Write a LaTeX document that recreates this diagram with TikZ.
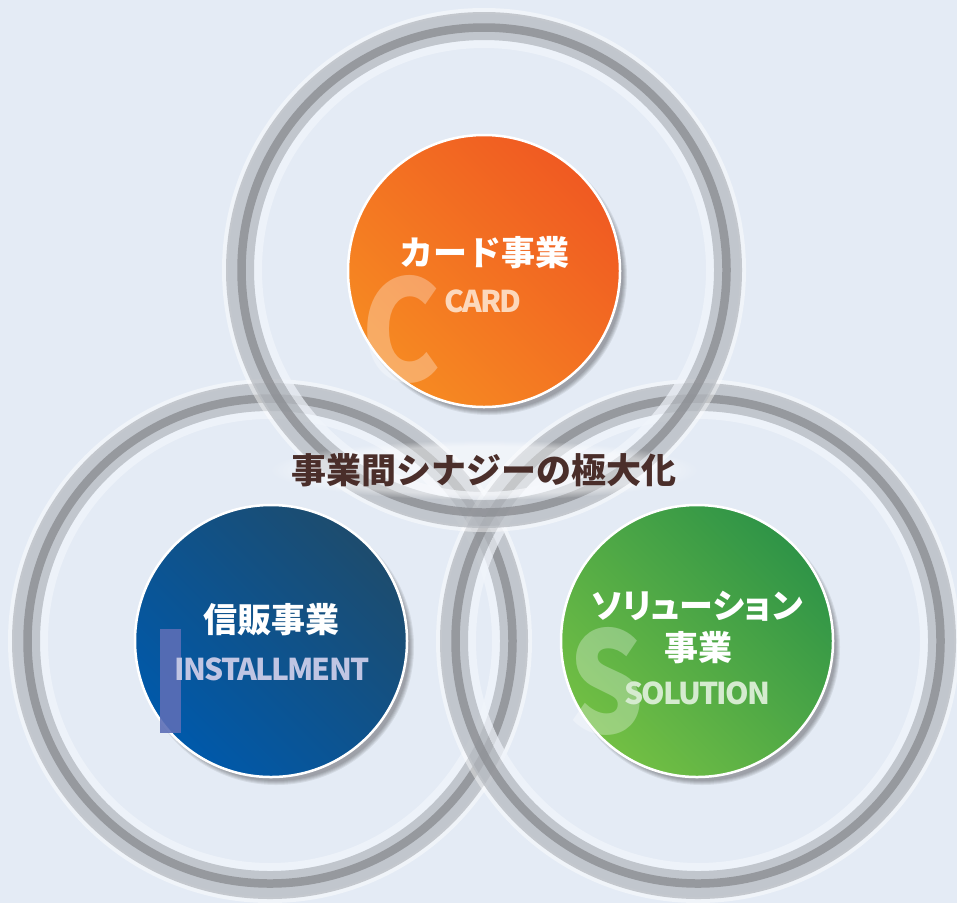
\documentclass[tikz,border=0pt]{standalone}
\usepackage{fontspec}
\usetikzlibrary{calc,fadings}
\newfontfamily\jp{Noto Sans CJK JP}
\newfontfamily\jpp{Noto Sans CJK JP}[RawFeature=+palt]
\newfontfamily\jpen{Noto Sans CJK JP}[LetterSpace=-6]
\definecolor{bg}{HTML}{E4EBF5}
\definecolor{ringgray}{HTML}{B6BAC0}
\definecolor{ringdark}{HTML}{8C8E93}
\definecolor{ringwhite}{HTML}{F1F5FB}
\definecolor{orA}{HTML}{F68A22}
\definecolor{orB}{HTML}{F05A22}
\definecolor{blA}{HTML}{0059AA}
\definecolor{blB}{HTML}{1D4C6E}
\definecolor{grA}{HTML}{72BF44}
\definecolor{grB}{HTML}{2F9447}
\definecolor{brown}{HTML}{4A2E2A}
\definecolor{cardtxt}{HTML}{FCD8BC}
\definecolor{insttxt}{HTML}{C0C5E3}
\definecolor{soltxt}{HTML}{D5EBCF}
\definecolor{ibar}{HTML}{5C6EB6}
\tikzset{
  ringhalo/.style={draw=white, opacity=0.45, line width=6pt},
  ringband/.style={draw=ringgray, line width=28pt, opacity=0.75},
  ringdarkband/.style={draw=ringdark, line width=8.5pt, opacity=0.8},
  ringinner/.style={draw=ringwhite, line width=8pt, opacity=0.7},
  disc/.style={circle, minimum size=272pt, inner sep=0pt, draw=white, line width=2.5pt},
  jpttl/.style={font=\jp\bfseries\fontsize{34}{40}\selectfont, text=white, inner sep=0pt},
  entxt/.style={font=\jpen\bfseries\fontsize{30}{36}\selectfont, inner sep=0pt},
  bigletter/.style={font=\jp\bfseries\fontsize{140}{140}\selectfont, text=white, text opacity=0.3, inner sep=0pt},
}
\begin{document}
\begin{tikzpicture}[x=1pt,y=-1pt]
\fill[bg] (0,0) rectangle (957,903);
\useasboundingbox (0,0) rectangle (957,903);
\coordinate (rt) at (484,270);
\coordinate (rl) at (270,641);
\coordinate (rr) at (698,641);
% rings
\foreach \c in {rl,rr,rt}{
  \draw[ringhalo] (\c) circle (259);
  \draw[ringinner] (\c) circle (226);
  \draw[ringband] (\c) circle (244);
  \draw[ringdarkband] (\c) circle (242.5);
}
% shadows
\foreach \p in {(484,271),(271,641),(697,641)}{
  \foreach \k in {0,1,2,3,4}{
    \fill[black, opacity=0.07] \p ++(5,6) circle ({134+\k});
  }
}
% discs
\node[disc, bottom color=orA, top color=orB, shading angle=-45] (card) at (484,271) {};
\node[disc, bottom color=blA, top color=blB, shading angle=-45] (inst) at (271,641) {};
\node[disc, bottom color=grA, top color=grB, shading angle=-45] (sol) at (697,641) {};
% big letters
\node[bigletter, xscale=0.85] (bigc) at (401,329) {C};
\node[bigletter, xscale=0.85] (bigs) at (607,681) {S};
\fill[ibar, opacity=0.9] (160,629) rectangle (181,733);
% texts
\node[jpttl] (t1) at (484,253) {カード事業};
\node[entxt, text=cardtxt] (e1) at (483,301) {CARD};
\node[jpttl] (t2) at (271,620) {信販事業};
\node[entxt, text=insttxt] (e2) at (272,669) {INSTALLMENT};
\node[jpttl, font=\jpp\bfseries\fontsize{34}{40}\selectfont] (t3a) at (697,606) {ソリューション};
\node[jpttl] (t3b) at (698,648) {事業};
\node[entxt, text=soltxt] (e3) at (697,693) {SOLUTION};
% center text with glow
\fill[white, opacity=0.45, path fading=circle with fuzzy edge 20 percent] (484,470) ellipse (215 and 30);
\node[font=\jp\bfseries\fontsize{35}{40}\selectfont, text=brown, inner sep=0pt] (center) at (484,470) {事業間シナジーの極大化};
\end{tikzpicture}
\end{document}
